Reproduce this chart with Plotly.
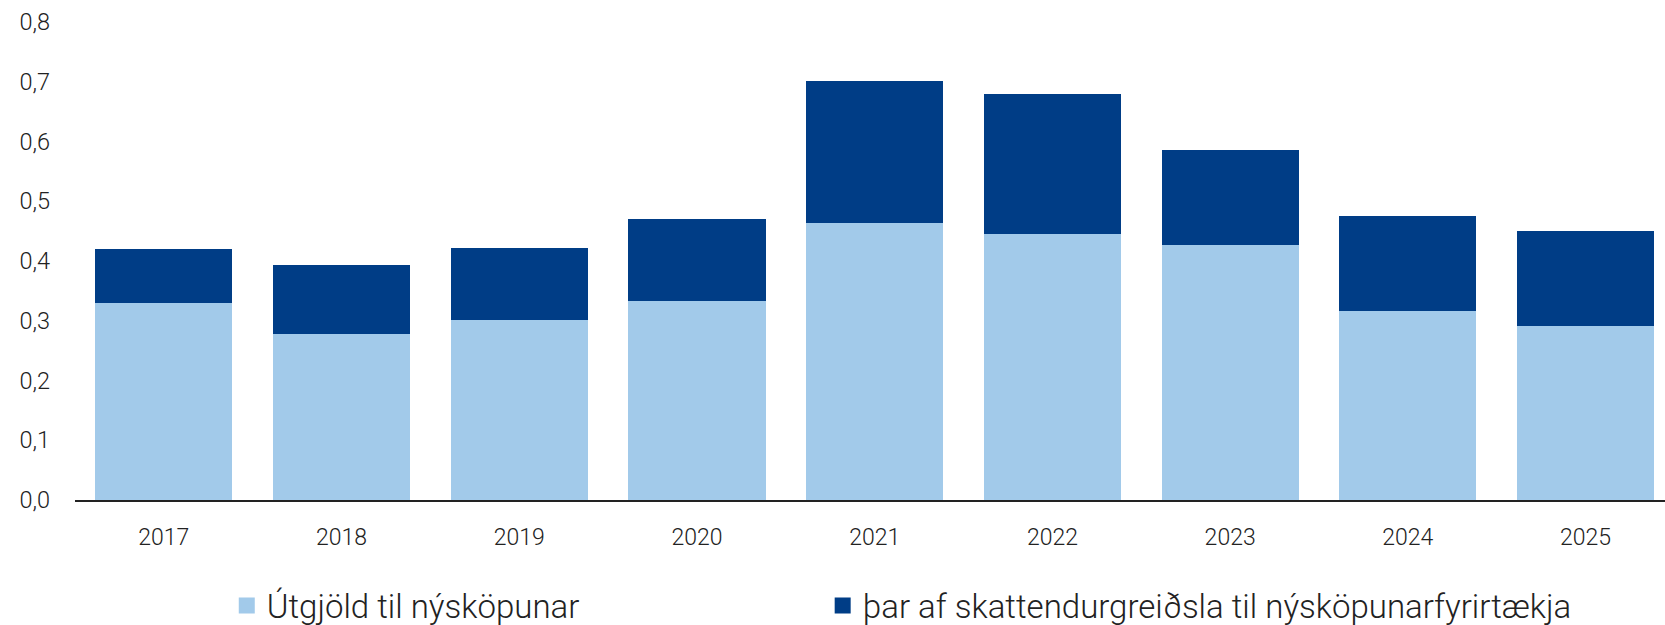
import plotly.graph_objects as go

years = ["2017", "2018", "2019", "2020", "2021", "2022", "2023", "2024", "2025"]
utgjold = [0.329, 0.278, 0.301, 0.333, 0.464, 0.445, 0.426, 0.316, 0.291]
skatt = [0.091, 0.115, 0.120, 0.137, 0.238, 0.234, 0.159, 0.160, 0.159]
y_ticks = [0.0, 0.1, 0.2, 0.3, 0.4, 0.5, 0.6, 0.7, 0.8]

name1 = "Útgjöld til nýsköpunar"
name2 = "þar af skattendurgreiðsla til nýsköpunarfyrirtækja"

LIGHT = "#A2CAEA"
DARK = "#003D86"
FONT = "Roboto"
TXT = "#222222"
W = 300

fig = go.Figure()
fig.add_trace(go.Bar(x=years, y=utgjold, name=name1, marker=dict(color=LIGHT, line=dict(width=0)),
                     showlegend=False))
fig.add_trace(go.Bar(x=years, y=skatt, name=name2, marker=dict(color=DARK, line=dict(width=0)),
                     showlegend=False))
# legend entries (square symbols)
fig.add_trace(go.Scatter(x=[None], y=[None], mode="markers", name=name1,
                         marker=dict(symbol="square", size=16, color=LIGHT, line=dict(width=0)),
                         legend="legend", showlegend=True, hoverinfo="skip"))
fig.add_trace(go.Scatter(x=[None], y=[None], mode="markers", name=name2,
                         marker=dict(symbol="square", size=16, color=DARK, line=dict(width=0)),
                         legend="legend2", showlegend=True, hoverinfo="skip"))

fig.update_layout(
    width=1665, height=625,
    barmode="stack",
    bargap=0.229,
    paper_bgcolor="white",
    plot_bgcolor="white",
    separators=",.",
    font=dict(family=FONT, color=TXT, weight=W),
    margin=dict(l=75, r=0, t=22, b=125, autoexpand=False),
    showlegend=True,
    legend=dict(orientation="h", xref="container", yref="container",
                x=0.1362, y=0.031, xanchor="left", yanchor="middle",
                font=dict(size=33, family=FONT, color=TXT, weight=W), bgcolor="rgba(0,0,0,0)",
                borderwidth=0, itemsizing="trace"),
    legend2=dict(orientation="h", xref="container", yref="container",
                 x=0.4941, y=0.031, xanchor="left", yanchor="middle",
                 font=dict(size=33, family=FONT, color=TXT, weight=W), bgcolor="rgba(0,0,0,0)",
                 borderwidth=0, itemsizing="trace"),
)

fig.update_xaxes(
    type="category",
    range=[-0.5, 8.447],
    showline=True, linecolor="#222222", linewidth=1.5,
    showgrid=False, zeroline=False,
    ticks="", ticklabelstandoff=16,
    tickfont=dict(size=23, family=FONT, color=TXT, weight=W),
)
fig.update_yaxes(
    range=[0, 0.8],
    tickvals=y_ticks,
    tickformat=".1f",
    showline=False, showgrid=False, zeroline=False,
    ticks="", ticklabelstandoff=24,
    tickfont=dict(size=23.5, family=FONT, color=TXT, weight=W),
)

fig.write_html("out.html", config={"displayModeBar": False},
               post_script="document.body.style.margin='0';")
